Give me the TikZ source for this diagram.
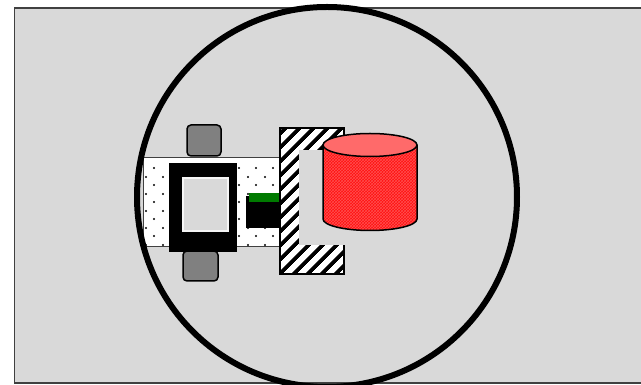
\documentclass[tikz,border=0pt]{standalone}
\usepackage{xcolor}
\usepackage{tikz}
\usetikzlibrary{patterns,patterns.meta}
\definecolor{floorgray}{HTML}{D9D9D9}
\definecolor{edgegray}{HTML}{404040}
\definecolor{wheelgray}{HTML}{808080}
\definecolor{sensorgreen}{HTML}{007A00}
\definecolor{binred}{HTML}{FF1010}
\definecolor{bintop}{HTML}{FF6A6A}
\tikzset{
  arena/.style={draw=edgegray, line width=1.5pt, fill=floorgray},
  sensing/.style={draw=black, line width=6pt},
  chassis/.style={draw=edgegray, line width=1pt, fill=white},
  speck/.style={fill=black},
  wheel/.style={draw=black, line width=1.5pt, fill=wheelgray, rounded corners=4pt},
  frame/.style={fill=black},
  window/.style={draw=white!92!gray, line width=1.5pt, fill=floorgray},
  gripper/.style={draw=black, line width=1.2pt, fill=white},
  hatch/.style={pattern={Lines[angle=45, distance=10.5pt, line width=4.2pt]}, pattern color=black},
  bin/.style={draw=black, line width=1.5pt, fill=binred},
  binlid/.style={draw=black, line width=1.5pt, fill=bintop}
}
\begin{document}
\begin{tikzpicture}[x=1pt, y=1pt]
  \useasboundingbox (0,0) rectangle (641,385);
  \clip (0,0) rectangle (641,385);

  % arena floor
  \draw[arena] (14.5,2) rectangle (660,377);

  % robot wheels
  \draw[wheel] (187,229) rectangle (221,260);
  \draw[wheel] (183,104) rectangle (218,134);

  % chassis plate, staggered dots
  \draw[chassis] (143,138) rectangle (282,227);
  \begin{scope}
    \clip (143.5,138.5) rectangle (281.5,226.5);
    \foreach \row in {0,...,4} {
      \foreach \col in {0,...,7} {
        \fill[speck] (154+17*\col,217-17*\row) circle[radius=1.1];
        \fill[speck] (146+17*\col,208-17*\row) circle[radius=1.1];
      }
    }
  \end{scope}

  % body frame with window
  \fill[frame] (169,133) rectangle (237,222);
  \draw[window] (183,154) rectangle (228,207);

  % front sensor
  \fill[black] (246,157) rectangle (282,189);
  \fill[sensorgreen] (249,183) rectangle (282,192);

  % gripper (hatched, open side to the right)
  \draw[gripper] (280,111) rectangle (344,257);
  \fill[hatch] (280,111) rectangle (344,257);
  \fill[floorgray] (299,140) rectangle (345.5,235);

  % target bin
  \fill[binred] (323,240) -- (323,166)
    arc[start angle=180, end angle=360, x radius=47, y radius=11.5] -- (417,240) -- cycle;
  \fill[pattern=crosshatch, pattern color=bintop!70!binred] (323,240) -- (323,166)
    arc[start angle=180, end angle=360, x radius=47, y radius=11.5] -- (417,240) -- cycle;
  \draw[black, line width=1.5pt] (323,240) -- (323,166)
    arc[start angle=180, end angle=360, x radius=47, y radius=11.5] -- (417,240);
  \draw[binlid] (370,240) ellipse[x radius=47, y radius=11.5];

  % detection range
  \draw[sensing] (327,188) circle[radius=190];
\end{tikzpicture}
\end{document}
